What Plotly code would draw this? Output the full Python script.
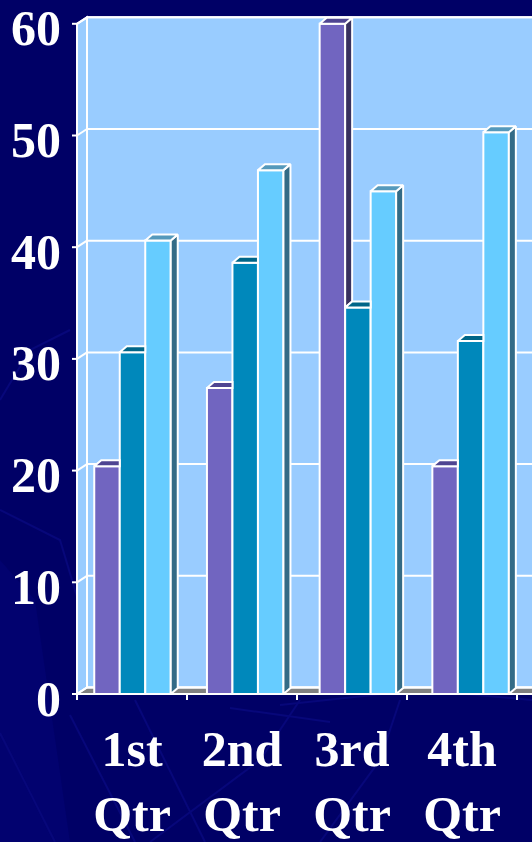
import plotly.graph_objects as go

# ---- data -------------------------------------------------------------
quarters = ["1st<br>Qtr", "2nd<br>Qtr", "3rd<br>Qtr", "4th<br>Qtr"]
series_names = ["East", "West", "North"]
east = [20.4, 27.4, 60.0, 20.4]
west = [30.6, 38.6, 34.6, 31.6]
north = [40.6, 46.9, 45.0, 50.3]
y_ticks = [0, 10, 20, 30, 40, 50, 60]

series_values = [east, west, north]
front_colors = ["#7165C0", "#0088BB", "#66CCFF"]
top_colors = ["#4F4592", "#006688", "#5599BB"]
side_colors = ["#39325F", "#00587A", "#336B87"]

# ---- geometry ---------------------------------------------------------
W, H = 532, 842
NAVY = "#000066"
WALL = "#99CCFF"
FLOOR = "#808080"
WHITE = "#FFFFFF"

# front plane: category 0 starts at px 77, 110 px per category;
# value 0 at px 694, 11.17 px per unit
FX0, FCAT = 77.0, 110.0
FY0, FUNIT = 694.0, 11.17
# bar plane (slightly deeper, a little wider in perspective)
BX0, BCAT = 76.15, 112.7

# plot area in pixels
PL, PR, PT, PB = 64, 532, 8, 706

x_range = [(PL - FX0) / FCAT, (PR - FX0) / FCAT]
x2_range = [(PL - BX0) / BCAT, (PR - BX0) / BCAT]
y_range = [(FY0 - PB) / FUNIT, (FY0 - PT) / FUNIT]

ymax = y_ticks[-1]
ncat = len(quarters)

# wall depth (front edge -> back wall)
wdx = 10.0 / FCAT
wdy = 6.5 / FUNIT
# bar depth
bdx = 7.0 / BCAT
bdy = 6.0 / FUNIT
bw = 25.5 / BCAT

fig = go.Figure()

shapes = []


def to_paper(px, py):
    """Figure pixel -> paper coordinates (paper spans the plot area)."""
    return (px - PL) / (PR - PL), (PB - py) / (PB - PT)


# faint decorative strokes in the slide background (figure pixels)
DECO = "#07077A"
deco_fill = [(0, 560), (35, 600), (70, 842), (0, 842)]
deco_lines = [
    [(0, 733), (55, 842)],
    [(0, 510), (60, 540), (78, 600)],
    [(70, 715), (135, 842)],
    [(135, 700), (205, 842)],
    [(230, 708), (330, 722)],
    [(280, 705), (420, 690), (532, 700)],
    [(0, 400), (30, 350), (70, 330)],
    [(150, 842), (260, 760), (300, 700)],
    [(320, 842), (380, 760), (400, 700)],
]
path = "M " + " L ".join("{},{}".format(*to_paper(*p)) for p in deco_fill) + " Z"
shapes.append(dict(type="path", xref="paper", yref="paper", path=path,
                   fillcolor="#02026F", line=dict(width=0), layer="below"))
for pts in deco_lines:
    path = "M " + " L ".join("{},{}".format(*to_paper(*p)) for p in pts)
    shapes.append(dict(type="path", xref="paper", yref="paper", path=path,
                       line=dict(color=DECO, width=2), layer="below"))


def seg(x0, y0, x1, y1, width=2, color=WHITE, layer="below"):
    shapes.append(dict(type="line", xref="x", yref="y", x0=x0, y0=y0, x1=x1, y1=y1,
                       line=dict(color=color, width=width), layer=layer))


def poly(pts, fill, line_color=WHITE, width=2, layer="below"):
    path = "M " + " L ".join(f"{px},{py}" for px, py in pts) + " Z"
    shapes.append(dict(type="path", xref="x", yref="y", path=path, fillcolor=fill,
                       line=dict(color=line_color, width=width), layer=layer))


xend = x_range[1] + 0.05

# back wall
poly([(wdx, wdy), (xend, wdy), (xend, ymax + wdy), (wdx, ymax + wdy)], WALL)
# left side wall
poly([(0, 0), (0, ymax), (wdx, ymax + wdy), (wdx, wdy)], WALL)
# floor
poly([(0, 0), (xend, 0), (xend, wdy), (wdx, wdy)], FLOOR)

# gridlines on the back wall, diagonals on the side wall, ticks on the axis
for v in y_ticks:
    seg(wdx, v + wdy, xend, v + wdy)
    seg(0, v, wdx, v + wdy)
    seg(-5.0 / FCAT, v, 0, v)
# front edges of the walls
seg(0, 0, 0, ymax)
seg(wdx, wdy, wdx, ymax + wdy)
seg(0, 0, xend, 0)
# category ticks along the bottom
for k in range(ncat + 1):
    seg(k, 0, k, -6.0 / FUNIT)

# ---- bars -------------------------------------------------------------
nser = len(series_values)
for i, (name, vals) in enumerate(zip(series_names, series_values)):
    centers = [k + 0.5 + (i - (nser - 1) / 2) * bw for k in range(ncat)]
    fig.add_trace(go.Bar(
        x=centers, y=vals, width=bw, name=name, xaxis="x2", yaxis="y",
        marker=dict(color=front_colors[i], line=dict(color=WHITE, width=2)),
        showlegend=False, hoverinfo="skip",
    ))

# top and side faces, trimmed where the next bar in the group hides them
for i, vals in enumerate(series_values):
    tx, ty, sx, sy = [], [], [], []
    for k in range(ncat):
        v = vals[k]
        c = k + 0.5 + (i - (nser - 1) / 2) * bw
        x0, x1 = c - bw / 2, c + bw / 2
        nxt = series_values[i + 1][k] if i + 1 < nser else None
        if nxt is not None and nxt >= v:
            # right part of the top is behind the next bar
            tx += [x0, x1, x1, x0 + bdx, x0, None]
            ty += [v, v, v + bdy, v + bdy, v, None]
        else:
            tx += [x0, x1, x1 + bdx, x0 + bdx, x0, None]
            ty += [v, v, v + bdy, v + bdy, v, None]
            base = nxt if nxt is not None else 0.0
            sx += [x1, x1, x1 + bdx, x1 + bdx, x1, None]
            sy += [base, v, v + bdy, base + bdy, base, None]
    if sx:
        fig.add_trace(go.Scatter(
            x=sx, y=sy, xaxis="x2", yaxis="y", mode="lines", fill="toself",
            fillcolor=side_colors[i], line=dict(color=WHITE, width=2),
            showlegend=False, hoverinfo="skip",
        ))
    fig.add_trace(go.Scatter(
        x=tx, y=ty, xaxis="x2", yaxis="y", mode="lines", fill="toself",
        fillcolor=top_colors[i], line=dict(color=WHITE, width=2),
        showlegend=False, hoverinfo="skip",
    ))

label_font = dict(family="Liberation Serif", size=50, color=WHITE, weight="bold")

fig.update_layout(
    width=W, height=H,
    margin=dict(l=PL, r=W - PR, t=PT, b=H - PB, pad=0, autoexpand=False),
    paper_bgcolor=NAVY, plot_bgcolor="rgba(0,0,0,0)",
    barmode="overlay",
    shapes=shapes,
    xaxis=dict(range=x_range, tickvals=[k + 0.5 for k in range(ncat)], ticktext=quarters,
               ticks="", showgrid=False, zeroline=False, showline=False,
               tickfont=label_font, ticklabelstandoff=9, automargin=False,
               ticklabeloverflow="allow", fixedrange=True),
    xaxis2=dict(range=x2_range, overlaying="x", visible=False, fixedrange=True),
    yaxis=dict(range=y_range, tickvals=y_ticks, ticks="", showgrid=False,
               zeroline=False, showline=False, tickfont=label_font,
               ticklabelstandoff=2, ticklabelshift=4, automargin=False,
               ticklabeloverflow="allow", fixedrange=True),
    showlegend=False,
)

fig.write_html("out.html")
